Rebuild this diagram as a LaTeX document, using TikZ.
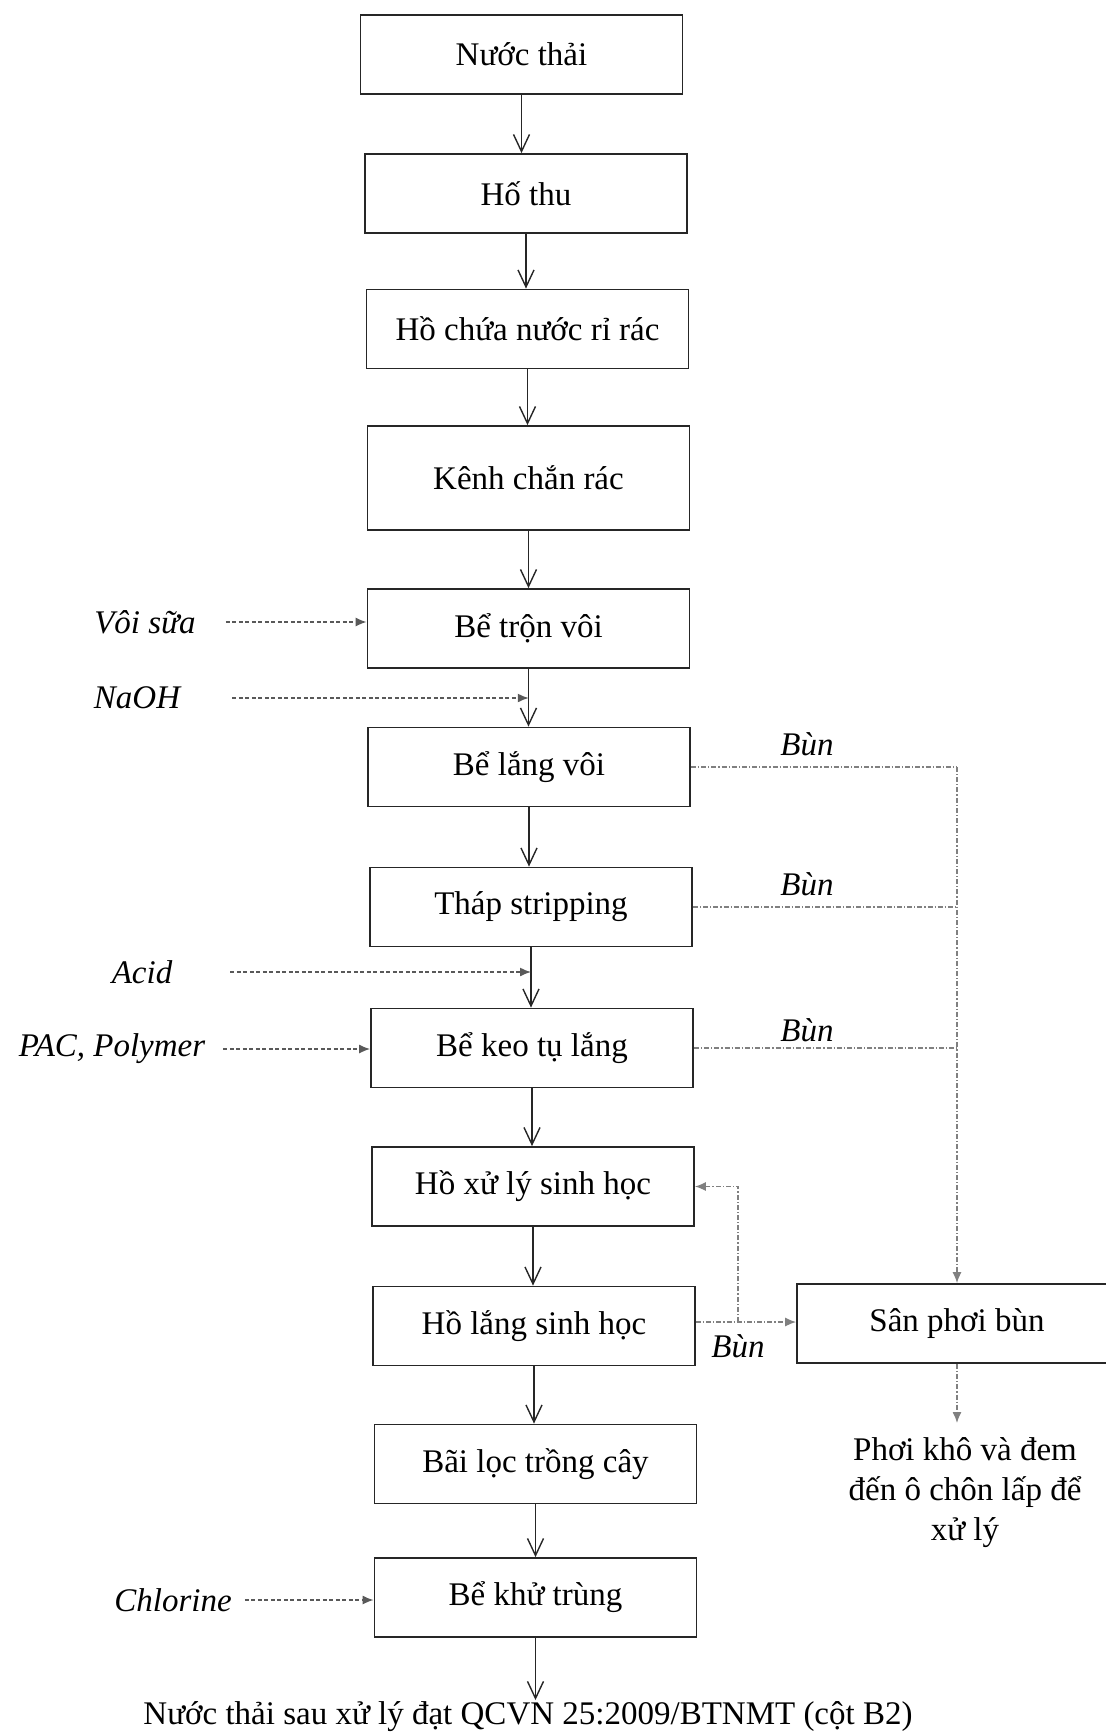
\documentclass[tikz,border=0pt]{standalone}
\usepackage{fontspec}
\setmainfont{Liberation Serif}
\usetikzlibrary{arrows.meta,calc}
\begin{document}
\begin{tikzpicture}[x=1pt,y=-1pt,
  every node/.style={font=\fontsize{33}{40}\selectfont},
  box/.style={draw=black!85,line width=1.8pt,minimum width=322pt,minimum height=79pt,inner sep=0pt},
  flow/.style={draw=black!85,line width=1.5pt,-{Straight Barb[length=17pt,width=16pt,line width=1.4pt]}},
  side/.style={draw=black!65,line width=1.4pt,dash pattern=on 4pt off 2.5pt,-{Latex[length=11pt,width=9pt]}},
  mud/.style={draw=black!50,line width=1.3pt,dash pattern=on 5pt off 2pt on 1.2pt off 2pt},
  lab/.style={font=\fontsize{33}{40}\selectfont\itshape,inner sep=0pt}]
\useasboundingbox (0,0) rectangle (1106,1733);
% main column
\node[box] (b1) at (521.5,54.5) {Nước thải};
\node[box] (b2) at (526,193.5) {Hố thu};
\node[box] (b3) at (527.5,329) {Hồ chứa nước rỉ rác};
\node[box,minimum height=104pt] (b4) at (528.5,478) {Kênh chắn rác};
\node[box] (b5) at (528.5,628.5) {Bể trộn vôi};
\node[box] (b6) at (529,767) {Bể lắng vôi};
\node[box] (b7) at (531,907) {Tháp stripping};
\node[box] (b8) at (532,1048) {Bể keo tụ lắng};
\node[box] (b9) at (533,1186.5) {Hồ xử lý sinh học};
\node[box] (b10) at (534,1326) {Hồ lắng sinh học};
\node[box] (b11) at (535.5,1464) {Bãi lọc trồng cây};
\node[box] (b12) at (535.5,1597.5) {Bể khử trùng};
\node[box,minimum width=320pt] (b13) at (957,1323.5) {Sân phơi bùn};
\node[inner sep=0pt,anchor=base] (out) at (528,1724) {Nước thải sau xử lý đạt QCVN 25:2009/BTNMT (cột B2)};
\coordinate (outtop) at (528,1700);
\node[align=center,inner sep=0pt,anchor=north] (dry) at (965,1437) {Phơi khô và đem\\đến ô chôn lấp để\\xử lý};
% main arrows
\foreach \a/\b in {b1/b2,b2/b3,b3/b4,b4/b5,b5/b6,b6/b7,b7/b8,b8/b9,b9/b10,b10/b11,b11/b12}
  \draw[flow] (\a.south) -- (\a.south |- \b.north);
\draw[flow] (b12.south) -- (b12.south |- outtop);
% chemical inputs
\node[lab] (voi) at (145,622) {Vôi sữa};
\node[lab] (naoh) at (137,698) {NaOH};
\node[lab] (acid) at (142,972) {Acid};
\node[lab] (pac) at (112,1049) {PAC, Polymer};
\node[lab] (chl) at (173,1600) {Chlorine};
\coordinate (jn) at ($(b5.south)!0.5!(b6.south |- b6.north)$);
\coordinate (ja) at ($(b7.south)!0.5!(b7.south |- b8.north)$);
\draw[side,shorten <=30pt] (voi.east) -- (voi.east -| b5.west);
\draw[side,shorten <=52pt] (naoh.east) -- (naoh.east -| jn);
\draw[side,shorten <=58pt] (acid.east) -- (acid.east -| ja);
\draw[side,shorten <=18pt] (pac.east) -- (pac.east -| b8.west);
\draw[side,shorten <=13pt] (chl.east) -- (chl.east -| b12.west);
% sludge lines
\coordinate (c6) at (b13.north |- b6.east);
\draw[mud] (b6.east) -- (c6);
\draw[mud] (b7.east) -- (b13.north |- b7.east);
\draw[mud] (b8.east) -- (b13.north |- b8.east);
\draw[mud,-{Latex[length=11pt,width=9pt]}] (c6) -- (b13.north);
\node[lab] (bun1) at (807,744) {Bùn};
\node[lab] (bun2) at (807,884) {Bùn};
\node[lab] (bun3) at (807,1030) {Bùn};
\coordinate (sp) at (738,1322);
\draw[mud,-{Latex[length=11pt,width=9pt]}] (b10.east |- sp) -- (b13.west |- sp);
\draw[mud,-{Latex[length=11pt,width=9pt]}] (sp) -- (sp |- b9.east) -- (b9.east);
\node[lab] (bun4) at (738,1346) {Bùn};
\draw[mud,-{Latex[length=11pt,width=9pt]}] (b13.south) -- (b13.south |- 0,1423);
\end{tikzpicture}
\end{document}
